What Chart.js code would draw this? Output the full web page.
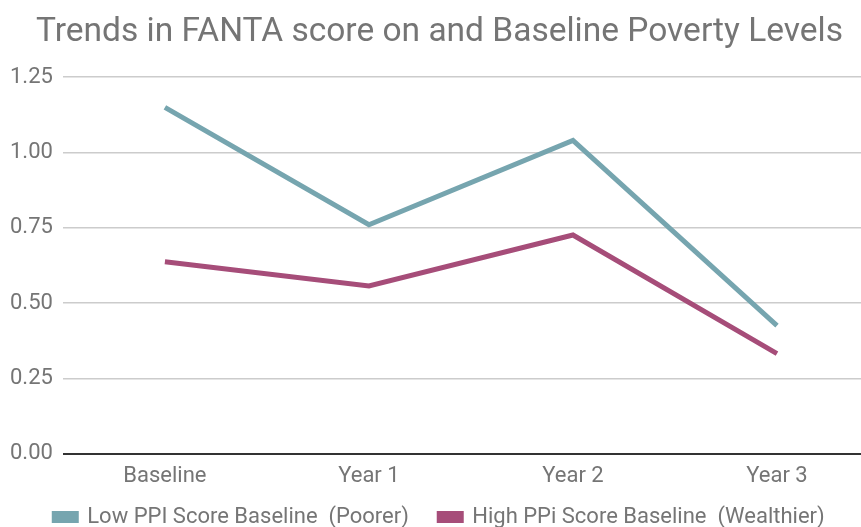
<!DOCTYPE html>
<html lang="en">
<head>
<meta charset="UTF-8">
<title>Trends in FANTA score on and Baseline Poverty Levels</title>
<script src="https://cdn.jsdelivr.net/npm/chart.js"></script>
<style>
    html, body { margin: 0; padding: 0; background: #fff; overflow: hidden; }
    #wrap { width: 861px; height: 527px; overflow: hidden; }
    canvas { display: block; }
</style>
</head>
<body>
<div id="wrap"><canvas id="chart" width="879" height="527"></canvas></div>
<script>
    // data
    const categories = ["Baseline", "Year 1", "Year 2", "Year 3"];
    const lowPPI = [1.15, 0.76, 1.04, 0.425];
    const highPPI = [0.637, 0.557, 0.726, 0.332];
    const yTicks = [0, 0.25, 0.5, 0.75, 1.0, 1.25];

    Chart.defaults.font.family = "Roboto, 'Noto Sans', Arial, sans-serif";
    Chart.defaults.color = "#757575";

    new Chart(document.getElementById("chart").getContext("2d"), {
        type: "line",
        data: {
            labels: categories,
            datasets: [
                { label: "Low PPI Score Baseline  (Poorer)", data: lowPPI, borderColor: "#76a5af", backgroundColor: "#76a5af", borderWidth: 5, pointRadius: 0, tension: 0 },
                { label: "High PPi Score Baseline  (Wealthier)", data: highPPI, borderColor: "#a64d79", backgroundColor: "#a64d79", borderWidth: 5, pointRadius: 0, tension: 0 }
            ]
        },
        options: {
            responsive: false,
            animation: false,
            layout: { padding: { left: 0, right: 0, top: 0, bottom: -11 } },
            plugins: {
                title: {
                    display: true,
                    text: "Trends in FANTA score on and Baseline Poverty Levels",
                    font: { size: 33.5, weight: "normal" },
                    color: "#757575",
                    padding: { top: 13, bottom: 24 }
                },
                legend: {
                    position: "bottom",
                    labels: {
                        boxWidth: 22, boxHeight: 7, font: { size: 22 }, color: "#757575", padding: 14,
                        // extra room after the first item, like the original
                        generateLabels: chart => {
                            const items = Chart.defaults.plugins.legend.labels.generateLabels(chart);
                            items[0].text += "   ";
                            return items;
                        }
                    }
                },
                tooltip: { enabled: false }
            },
            scales: {
                x: {
                    offset: true,
                    grid: { display: false },
                    border: { display: false },
                    ticks: { font: { size: 22 }, color: "#757575", padding: 2 }
                },
                y: {
                    min: 0,
                    max: 1.25,
                    afterBuildTicks: axis => { axis.ticks = yTicks.map(v => ({ value: v })); },
                    grid: {
                        color: ctx => ctx.tick && ctx.tick.value === 0 ? "#333333" : "#cccccc",
                        lineWidth: ctx => ctx.tick && ctx.tick.value === 0 ? 2 : 1.5,
                        drawTicks: false
                    },
                    border: { display: false },
                    ticks: {
                        font: { size: 22 },
                        color: "#757575",
                        padding: 10,
                        callback: v => Number(v).toFixed(2)
                    }
                }
            }
        }
    });
</script>
</body>
</html>
